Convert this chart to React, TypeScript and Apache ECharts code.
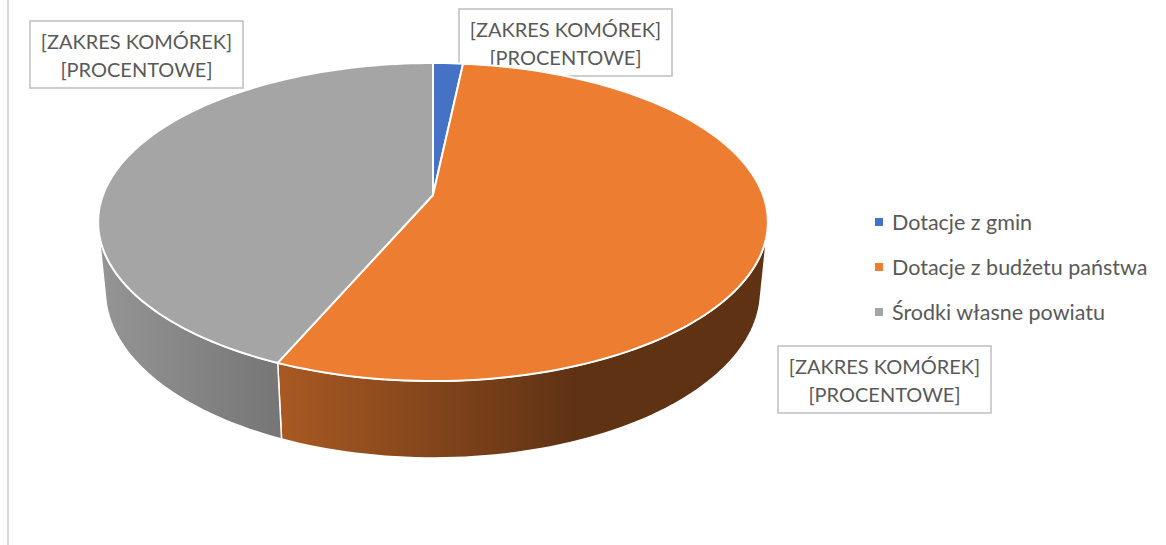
import React, { useEffect, useRef } from "react";
import * as echarts from "echarts";

const categories = ["Dotacje z gmin", "Dotacje z budżetu państwa", "Środki własne powiatu"];
const shares = [1.7, 54.8, 43.5];
const colors = ["#4472c4", "#ed7d31", "#a5a5a5"];
const labelLines = ["[ZAKRES KOMÓREK]", "[PROCENTOWE]"];

// 3D camera model (pie radius = 1)
const CAM_D = 5.2;
const SIN_B = 0.468;
const COS_B = 0.884;
const FOCAL = 1716;
const CX = 433;
const CY = 195;
const DEPTH = 0.238;

function project(phi: number, yLevel: number): number[] {
  const u = Math.sin(phi);
  const v = Math.cos(phi);
  const d = CAM_D - yLevel * SIN_B + v * COS_B;
  const s = yLevel * COS_B + v * SIN_B;
  return [CX + (FOCAL * u) / d, CY - (FOCAL * s) / d];
}

function shade(hex: string, f: number): string {
  const n = parseInt(hex.slice(1), 16);
  const r = Math.round(((n >> 16) & 255) * f);
  const g = Math.round(((n >> 8) & 255) * f);
  const b = Math.round((n & 255) * f);
  return `rgb(${r},${g},${b})`;
}

function makeRenderItem(idx: number) {
  return (params: any, api: any) => {
    const total = shares.reduce((a, b) => a + b, 0);
    let cum = 0;
    for (let i = 0; i < idx; i++) cum += shares[i];
    const val = api.value(0);
    const p0 = (2 * Math.PI * cum) / total;
    const p1 = (2 * Math.PI * (cum + val)) / total;
    const color = api.visual("color");
    const steps = Math.max(4, Math.ceil(((p1 - p0) / (2 * Math.PI)) * 240));
    const top: number[][] = [[CX, CY]];
    for (let k = 0; k <= steps; k++) {
      top.push(project(p0 + ((p1 - p0) * k) / steps, 0));
    }
    const children: any[] = [];
    // visible outer side
    const lim = Math.acos(-1 / (CAM_D * COS_B));
    const a = Math.max(p0, lim);
    const b = Math.min(p1, 2 * Math.PI - lim);
    if (b > a) {
      const n = Math.max(4, Math.ceil(((b - a) / (2 * Math.PI)) * 240));
      const pts: number[][] = [];
      for (let k = 0; k <= n; k++) pts.push(project(a + ((b - a) * k) / n, 0));
      for (let k = n; k >= 0; k--) pts.push(project(a + ((b - a) * k) / n, -DEPTH));
      children.push({
        type: "polygon",
        shape: { points: pts },
        z2: 5,
        style: {
          fill: {
            type: "linear",
            x: 100,
            y: 0,
            x2: 576,
            y2: 0,
            global: true,
            colorStops: [
              { offset: 0, color: shade(colors[idx], 0.9) },
              { offset: 1, color: shade(colors[idx], 0.4) },
            ],
          },
          stroke: "#ffffff",
          lineWidth: 1.5,
          lineJoin: "round",
        },
      });
    }
    children.push({
      type: "polygon",
      shape: { points: top },
      z2: 10,
      style: { fill: color, stroke: "#ffffff", lineWidth: 2, lineJoin: "round" },
    });
    return { type: "group", children };
  };
}

const labelBoxes = [
  [30, 21],
  [459, 9],
  [778, 346],
];

export default function App() {
  const ref = useRef<HTMLDivElement>(null);
  useEffect(() => {
    if (!ref.current) return;
    const chart = echarts.init(ref.current, null, { renderer: "svg" });
    const graphics: any[] = [
      {
        type: "line",
        shape: { x1: 8, y1: 0, x2: 8, y2: 545 },
        style: { stroke: "#d9d9d9", lineWidth: 2 },
        z: 1,
      },
    ];
    labelBoxes.forEach(([x, y]) => {
      graphics.push({
        type: "group",
        z: 100,
        children: [
          {
            type: "rect",
            shape: { x, y, width: 213, height: 67 },
            style: { fill: "#ffffff", stroke: "#bfbfbf", lineWidth: 1.5 },
          },
          {
            type: "text",
            x: x + 106.5,
            y: y + 33.5,
            style: {
              text: labelLines.join("\n"),
              align: "center",
              verticalAlign: "middle",
              fontSize: 20,
              lineHeight: 28,
              fontFamily: "Lato",
              fill: "#595959",
            },
          },
        ],
      });
    });
    chart.setOption({
      animation: false,
      color: colors,
      legend: {
        orient: "vertical",
        left: 875,
        top: 210,
        padding: 0,
        itemWidth: 8,
        itemHeight: 8,
        itemGap: 21,
        icon: "rect",
        selectedMode: false,
        data: categories,
        textStyle: {
          fontSize: 21.5,
          lineHeight: 24,
          color: "#595959",
          fontFamily: "Lato",
          padding: [0, 0, 0, 4],
        },
      },
      graphic: graphics,
      series: categories.map((name, i) => ({
        type: "custom",
        name,
        coordinateSystem: "none",
        renderItem: makeRenderItem(i),
        data: [shares[i]],
        silent: true,
      })),
    });
    return () => chart.dispose();
  }, []);
  return (
    <div
      ref={ref}
      style={{ position: "fixed", left: 0, top: 0, width: 1166, height: 545, background: "#ffffff" }}
    />
  );
}
